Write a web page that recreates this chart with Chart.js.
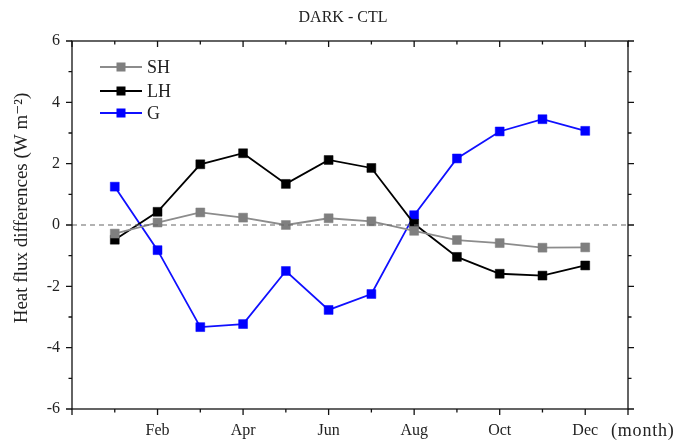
<!DOCTYPE html>
<html><head><meta charset="utf-8">
<script src="https://cdn.jsdelivr.net/npm/chart.js@4/dist/chart.umd.min.js"></script>
<style>html,body{margin:0;padding:0;background:#fff}</style>
</head><body>
<canvas id="c" width="685" height="441"></canvas>
<script>
const titleText = 'DARK - CTL';
const yTitle = 'Heat flux differences (W m\u207B\u00B2)';
const xUnit = '(month)';
const months = ['Jan','Feb','Mar','Apr','May','Jun','Jul','Aug','Sep','Oct','Nov','Dec'];
const xLabelMonths = ['Feb','Apr','Jun','Aug','Oct','Dec'];
const yTickLabels = [-6,-4,-2,0,2,4,6];
const SH = [-0.28, 0.08, 0.41, 0.24, 0.0, 0.22, 0.12, -0.19, -0.49, -0.59, -0.74, -0.73];
const LH = [-0.48, 0.43, 1.98, 2.34, 1.34, 2.12, 1.86, 0.04, -1.04, -1.59, -1.65, -1.32];
const G  = [1.25, -0.82, -3.33, -3.23, -1.5, -2.77, -2.25, 0.32, 2.17, 3.05, 3.45, 3.07];

const FONT = '"Liberation Serif", "DejaVu Serif", serif';
const series = [
  {label:'SH', data:SH, color:'#8c8c8c', mk:'#7f7f7f'},
  {label:'LH', data:LH, color:'#000000', mk:'#000000'},
  {label:'G',  data:G,  color:'#1010ff', mk:'#0000ff'}
];
const toXY = arr => arr.map((v,i)=>({x:i+1,y:v}));

const decor = {
  id:'decor',
  afterDraw(chart){
    const ctx = chart.ctx, a = chart.chartArea, xs = chart.scales.x, ys = chart.scales.y;
    ctx.save();
    // zero line
    ctx.strokeStyle = '#666'; ctx.lineWidth = 1.2; ctx.setLineDash([5,4]);
    const y0 = ys.getPixelForValue(0);
    ctx.beginPath(); ctx.moveTo(a.left, y0); ctx.lineTo(a.right, y0); ctx.stroke();
    ctx.setLineDash([]);
    // frame
    ctx.strokeStyle = '#111'; ctx.lineWidth = 1.3;
    ctx.strokeRect(a.left, a.top, a.right - a.left, a.bottom - a.top);
    // x ticks
    for (let v = 0; v <= 13; v++) {
      const px = xs.getPixelForValue(v);
      const major = (v % 2 === 0) || v === 13;
      const L = major ? 6 : 3.5;
      ctx.beginPath();
      ctx.moveTo(px, a.bottom); ctx.lineTo(px, a.bottom + L);
      ctx.moveTo(px, a.top); ctx.lineTo(px, a.top + L);
      ctx.stroke();
    }
    // y ticks
    for (let v = -6; v <= 6; v++) {
      const py = ys.getPixelForValue(v);
      const major = v % 2 === 0;
      const L = major ? 6 : 3.5;
      ctx.beginPath();
      ctx.moveTo(a.left, py); ctx.lineTo(a.left - L, py);
      ctx.moveTo(a.right, py); ctx.lineTo(a.right + L, py);
      ctx.stroke();
    }
    // title
    ctx.fillStyle = '#222';
    ctx.font = '16px ' + FONT;
    ctx.textAlign = 'center'; ctx.textBaseline = 'middle';
    ctx.fillText(titleText, 343, 18);
    // unit
    ctx.save();
    ctx.textAlign = 'left';
    ctx.font = '18px ' + FONT;
    ctx.letterSpacing = '0.8px';
    ctx.fillText(xUnit, 611, 431);
    ctx.restore();
    // y title
    ctx.save();
    ctx.translate(22, 208); ctx.rotate(-Math.PI/2);
    ctx.textAlign = 'center';
    ctx.font = '19px ' + FONT;
    ctx.fillText(yTitle, 0, 0);
    ctx.restore();
    // legend
    const ly = [67, 91, 113];
    chart.data.datasets.forEach((ds, i) => {
      const y = ly[i];
      ctx.strokeStyle = ds.borderColor; ctx.lineWidth = 1.8;
      ctx.beginPath(); ctx.moveTo(100, y); ctx.lineTo(142, y); ctx.stroke();
      ctx.fillStyle = ds.pointBackgroundColor;
      ctx.fillRect(116.5, y - 4.5, 9, 9);
      ctx.fillStyle = '#222';
      ctx.font = '18px ' + FONT;
      ctx.textAlign = 'left'; ctx.textBaseline = 'middle';
      ctx.fillText(ds.label, 147, y + 1);
    });
    ctx.restore();
  }
};

new Chart(document.getElementById('c'), {
  type:'line',
  data:{
    datasets: series.map(s => ({
      label:s.label, data:toXY(s.data),
      borderColor:s.color, borderWidth:1.8,
      pointStyle:'rect', pointRadius:6.3, pointHoverRadius:6.3,
      pointBackgroundColor:s.mk, pointBorderColor:s.mk, pointBorderWidth:0.5,
      tension:0, fill:false
    }))
  },
  options:{
    responsive:false, animation:false, devicePixelRatio:1,
    layout:{padding:{left:0, right:57, top:41, bottom:0}},
    plugins:{legend:{display:false}, title:{display:false}, tooltip:{enabled:false}},
    scales:{
      x:{type:'linear', min:0, max:13,
        grid:{display:false, drawTicks:false}, border:{display:false},
        afterFit(s){ s.height = 32; },
        afterBuildTicks(s){ s.ticks = []; for (let v=0; v<=13; v++) s.ticks.push({value:v}); },
        ticks:{padding:12, color:'#222', font:{family:FONT, size:16}, maxRotation:0, autoSkip:false,
          callback:(v)=>{ const m = months[v-1]; return (m && xLabelMonths.includes(m)) ? m : ''; }}
      },
      y:{type:'linear', min:-6, max:6,
        grid:{display:false, drawTicks:false}, border:{display:false},
        afterFit(s){ s.width = 72; },
        afterBuildTicks(s){ s.ticks = yTickLabels.map(v=>({value:v})); },
        ticks:{padding:12, color:'#222', font:{family:FONT, size:16},
          callback:(v)=> String(v)}
      }
    }
  },
  plugins:[decor]
});
</script>
</body></html>
